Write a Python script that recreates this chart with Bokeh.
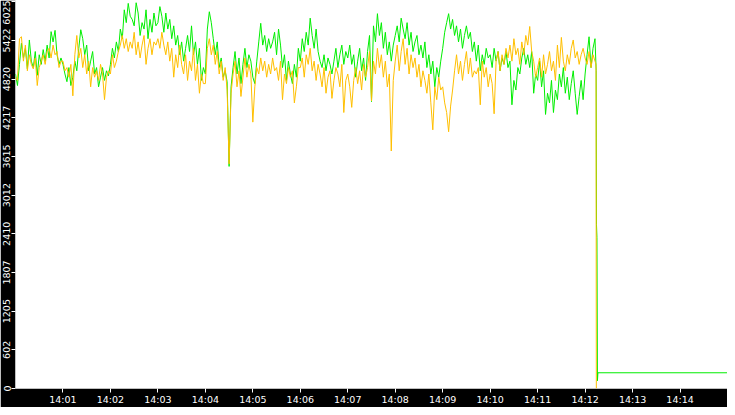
from bokeh.plotting import figure
from bokeh.models import Range1d, FixedTicker
from bokeh.embed import file_html
from bokeh.resources import INLINE

STEP = 2.5  # seconds between samples, starting 14:00:00

# one row per minute (24 samples)
green_vals = [
    4900, 4720, 5050, 5380, 5150, 5300, 4980, 5430, 5100, 5000, 5250, 4880, 5200, 5050, 5280, 5100, 5350, 5150, 5560, 5400, 5580, 5200, 5050, 5150,
    5050, 4900, 4780, 5000, 4720, 4850, 5100, 4950, 5300, 5590, 5450, 5200, 5350, 4950, 5100, 5250, 4900, 5000, 4700, 4850, 5000, 4800, 4950, 4870,
    5050, 5300, 5150, 5400, 5250, 5600, 5450, 5900, 5700, 6000, 5800, 5750, 5650, 6010, 5850, 5500, 5700, 5600, 5900, 5450, 5750, 5550, 5850, 5650,
    5700, 5950, 5800, 5550, 5850, 5600, 5750, 5450, 5650, 5350, 5500, 5200, 5400, 5100, 5300, 5500, 5250, 5650, 5200, 5400, 5050, 5300, 4800, 5000,
    4900, 5600, 5870, 5700, 5450, 5200, 5400, 5000, 5150, 4850, 4950, 4780, 3460, 4700, 5000, 5250, 4900, 5150, 4750, 5050, 5300, 5000, 5200, 5100,
    4850, 4750, 5100, 5400, 5690, 5350, 5500, 5250, 5450, 5300, 5400, 5550, 5200, 5600, 5350, 5000, 5200, 4800, 5100, 4900, 4750, 5050, 4850, 5300,
    5100, 5450, 5250, 5550, 5350, 5770, 5500, 5300, 5600, 5250, 5100, 5000, 5200, 4950, 5150, 5050, 4900, 5100, 5300, 5000, 5200, 5350, 5050, 5250,
    5150, 5350, 5050, 5200, 4850, 5100, 5300, 4950, 5150, 4800, 5250, 5500, 4470, 5650, 5400, 5840, 5500, 5700, 5300, 5550, 5200, 5400, 5100, 5350,
    5500, 5650, 5400, 5770, 5600, 5450, 5700, 5350, 5550, 5250, 5400, 5500, 5200, 5350, 5150, 5400, 5000, 5200, 4900, 5100, 4700, 5000, 4850, 5100,
    5300, 5550, 5700, 5840, 5600, 5750, 5500, 5650, 5400, 5600, 5300, 5500, 5650, 5450, 5550, 5250, 5400, 5100, 5350, 4950, 5200, 5050, 5300, 5150,
    5200, 5000, 5300, 5100, 5250, 4950, 5150, 5050, 5250, 5000, 5100, 4420, 4800, 4650, 5000, 4900, 5150, 5300, 5050, 5200, 5000, 5250, 4600, 4900,
    4800, 5100, 4700, 4950, 4270, 4600, 4450, 4800, 4300, 4650, 4500, 4900, 4700, 5000, 4600, 4850, 4500, 4750, 4950, 4600, 4270, 4550, 4800, 4500,
    4900, 5200, 5480, 5000, 5300, 5450,
]
orange_vals = [
    4850, 4800, 5450, 5480, 5100, 5350, 4950, 5200, 5050, 4980, 5150, 4720, 5000, 5100, 5200, 5050, 5250, 5300, 5150, 5350, 5200, 5250, 5000, 5100,
    5100, 4950, 5000, 4850, 5050, 4560, 5200, 5500, 5150, 5300, 5000, 5200, 4900, 5100, 4700, 5000, 4850, 4950, 4800, 5050, 4900, 4500, 4850, 4950,
    4900, 5200, 5000, 5100, 5250, 5350, 5500, 5300, 5450, 5250, 5400, 5300, 5550, 5200, 5400, 5150, 5350, 5500, 5050, 5300, 5450, 5200, 5400, 5350,
    5450, 5300, 5550, 5350, 5200, 5400, 5100, 5300, 4850, 5200, 5000, 5350, 5050, 4900, 5200, 4800, 5100, 4950, 5300, 4800, 5050, 4600, 4900, 4750,
    4750, 5300, 5450, 5200, 5350, 5050, 5250, 4900, 5100, 4800, 5000, 4650, 3500, 4600, 4900, 5100, 4700, 4950, 4550, 4850, 5150, 4850, 5050, 4900,
    4150, 4700, 5000, 4900, 5150, 4950, 5100, 4850, 5050, 4900, 5150, 4950, 5000, 4800, 5100, 4500, 4900, 4750, 5000, 4850, 4950, 4450, 4700, 5000,
    5000, 5150, 4850, 5200, 5050, 5300, 4950, 5100, 4800, 5050, 4900, 4700, 5000, 4600, 4850, 4950, 4520, 4800, 5000, 4900, 4700, 5050, 4300, 4800,
    4900, 4700, 4380, 4800, 5000, 4750, 4950, 4650, 5050, 4850, 5000, 5250, 4480, 5100, 4900, 5300, 5000, 5200, 4850, 5100, 4700, 4900, 3700, 4800,
    5100, 5350, 4950, 5250, 5450, 5050, 5300, 4900, 5200, 5000, 5150, 4850, 5050, 4700, 4950, 4800, 4600, 4900, 4450, 4030, 4700, 4500, 4850, 4650,
    4700, 4450, 4300, 4000, 4400, 4650, 4950, 5200, 4900, 5100, 4800, 5050, 5250, 4900, 5150, 4850, 4950, 4900, 5000, 4420, 5100, 4850, 5000, 4700,
    4900, 4750, 4280, 5100, 5250, 4950, 5200, 5050, 5300, 5150, 5350, 5100, 5450, 5200, 5300, 5050, 5400, 5200, 5500, 5350, 5640, 5250, 5100, 4850,
    5000, 5150, 4850, 5200, 4900, 5050, 5250, 4950, 5100, 4800, 5350, 5000, 5470, 5100, 4950, 5200, 5050, 5300, 5430, 5150, 5250, 5050, 5200, 5300,
    5150, 5050, 5250, 5000, 5200, 5100,
]

# after the cut-off at ~14:12:14
green_tail_t = [734.0, 734.4, 735.0, 735.6, 736.2, 900.0]
green_tail = [4950, 2550, 2350, 120, 245, 245]
orange_tail_t = [733.8, 734.2]
orange_tail = [5050, 0]

x_ticks = [60, 120, 180, 240, 300, 360, 420, 480, 540, 600, 660, 720, 780, 840]
x_labels = ["14:01", "14:02", "14:03", "14:04", "14:05", "14:06", "14:07",
            "14:08", "14:09", "14:10", "14:11", "14:12", "14:13", "14:14"]
y_ticks = [0, 602.5, 1205, 1807.5, 2410, 3012.5, 3615, 4217.5, 4820, 5422.5, 6025]
y_labels = ["0", "602", "1205", "1807", "2410", "3012", "3615", "4217", "4820", "5422", "6025"]

t_green = [i * STEP for i in range(len(green_vals))] + green_tail_t
t_orange = [i * STEP for i in range(len(orange_vals))] + orange_tail_t

p = figure(width=727, height=407, x_range=Range1d(0, 900), y_range=Range1d(0, 6045),
           output_backend="svg", toolbar_location=None, min_border=0)
p.background_fill_color = "white"
p.border_fill_color = "black"
p.outline_line_color = None
p.grid.visible = False

p.line(t_green, green_vals + green_tail, line_color="#00ee00", line_width=1)
p.line(t_orange, orange_vals + orange_tail, line_color="#ffbf00", line_width=1)

for ax in (p.xaxis[0], p.yaxis[0]):
    ax.axis_line_color = None
    ax.major_tick_line_color = "white"
    ax.minor_tick_line_color = None
    ax.major_tick_in = 0
    ax.major_tick_out = 4
    ax.major_label_text_color = "white"
    ax.major_label_text_font = "DejaVu Sans"
    ax.major_label_text_font_size = "9.5px"
    ax.major_label_standoff = 1

p.xaxis.ticker = FixedTicker(ticks=x_ticks)
p.xaxis.major_label_overrides = {t: s for t, s in zip(x_ticks, x_labels)}
p.yaxis.ticker = FixedTicker(ticks=y_ticks)
p.yaxis.major_label_overrides = {t: s for t, s in zip(y_ticks, y_labels)}
p.yaxis.major_label_orientation = "vertical"

open("out.html", "w").write(file_html(p, INLINE))
